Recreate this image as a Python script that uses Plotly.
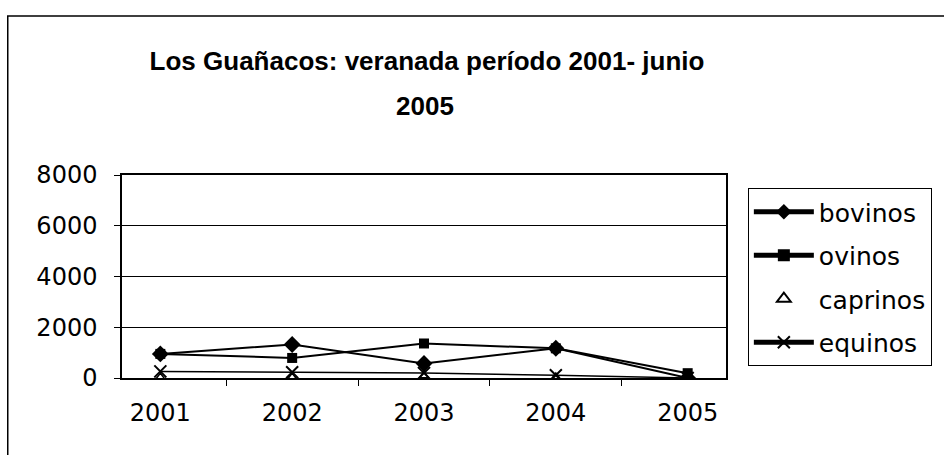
import plotly.graph_objects as go

# Summer grazing counts by livestock type, Los Guañacos
years = ["2001", "2002", "2003", "2004", "2005"]
bovinos = [950, 1320, 570, 1170, 0]
ovinos = [950, 790, 1360, 1170, 190]
caprinos = [30, 30, 90, 40, 10]
equinos = [260, 225, 200, 110, 0]

TITLE_FONT = "Liberation Sans, Arial, sans-serif"
FONT = "DejaVu Sans, Liberation Sans, Arial, sans-serif"

fig = go.Figure()
fig.add_trace(go.Scatter(
    x=years, y=bovinos, name="bovinos", mode="lines+markers",
    line=dict(color="black", width=2),
    marker=dict(symbol="diamond", size=13, color="black"),
    legendgroup="a",
))
fig.add_trace(go.Scatter(
    x=years, y=ovinos, name="ovinos", mode="lines+markers",
    line=dict(color="black", width=2),
    marker=dict(symbol="square", size=10, color="black"),
    legendgroup="b",
))
fig.add_trace(go.Scatter(
    x=years, y=caprinos, name="caprinos", mode="markers",
    marker=dict(symbol="triangle-up-open", size=8, color="black",
                line=dict(width=1.5, color="black")),
    legendgroup="c",
))
fig.add_trace(go.Scatter(
    x=years, y=equinos, name="equinos", mode="lines+markers",
    line=dict(color="black", width=1.5),
    marker=dict(symbol="x-thin-open", size=12, color="black",
                line=dict(width=2, color="black")),
    legendgroup="d",
))

L, R, T, B = 122, 214, 175, 77
W, H = 944, 455
pw, ph = W - L - R, H - T - B

def px(xp):
    return (xp - L) / pw

def py(yp):
    return (H - B - yp) / ph

fig.update_layout(
    width=W, height=H,
    margin=dict(l=L, r=R, t=T, b=B),
    paper_bgcolor="white", plot_bgcolor="white",
    font=dict(family=FONT, size=24, color="black"),
    title=dict(
        text="<b>Los Guañacos: veranada período 2001- junio</b>",
        xref="container", x=427 / W, xanchor="center",
        yref="container", y=1 - 61 / H, yanchor="middle",
        font=dict(family=TITLE_FONT, size=26, color="black"),
    ),
    annotations=[dict(
        text="<b>2005</b>", xref="paper", yref="paper",
        x=px(427), y=py(106), xanchor="center", yanchor="middle",
        showarrow=False, font=dict(family=TITLE_FONT, size=26, color="black"),
    )],
    showlegend=True,
    legend=dict(
        x=px(752), y=py(188), xanchor="left", yanchor="top",
        bordercolor="black", borderwidth=1,
        font=dict(family=FONT, size=25, color="black"),
        traceorder="grouped", tracegroupgap=8,
        itemwidth=60, itemsizing="constant",
        bgcolor="white",
    ),
    shapes=[
        # outer chart border
        dict(type="rect", xref="paper", yref="paper",
             x0=px(7), x1=px(960), y0=py(480), y1=py(16),
             line=dict(color="black", width=1.5), layer="below"),
    ],
)

fig.update_xaxes(
    type="category",
    showline=True, linecolor="black", linewidth=1.5, mirror=True,
    ticks="outside", tickson="boundaries", ticklen=6, tickcolor="black",
    ticklabelstandoff=12,
    showgrid=False,
    tickfont=dict(family=FONT, size=24, color="black"),
)
fig.update_yaxes(
    range=[0, 8000], dtick=2000,
    showline=True, linecolor="black", linewidth=1.5, mirror=True,
    ticks="outside", ticklen=6, tickcolor="black",
    ticklabelstandoff=12,
    showgrid=True, gridcolor="black", gridwidth=1,
    zeroline=False,
    tickfont=dict(family=FONT, size=24, color="black"),
)

fig.write_html("out.html")
